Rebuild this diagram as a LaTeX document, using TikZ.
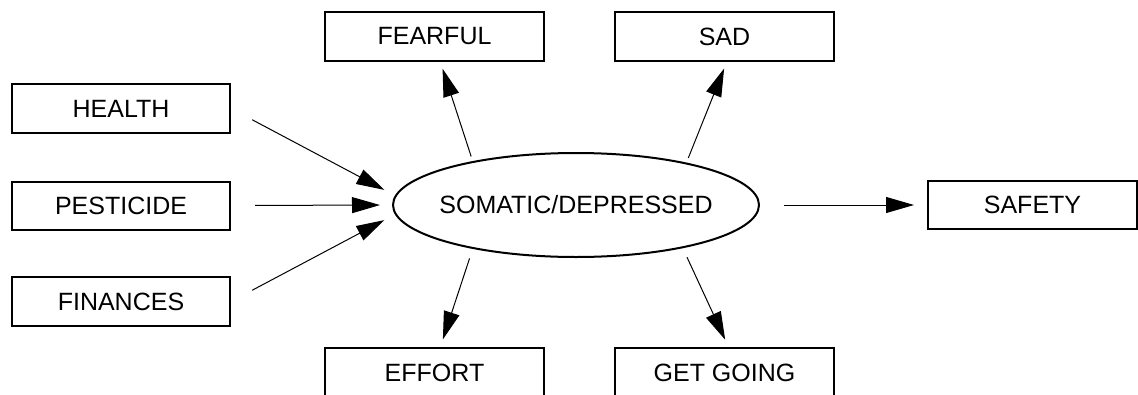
\documentclass[tikz,border=0pt]{standalone}
\usepackage{fontspec}
\setmainfont{Liberation Sans}
\usetikzlibrary{arrows.meta, shapes.geometric}

\tikzset{
	box/.style={draw, line width=2pt, minimum width=219pt, minimum height=49pt, inner sep=0pt, font=\fontsize{25}{30}\selectfont},
	oval/.style={draw, ellipse, line width=2pt, minimum width=366pt, minimum height=104pt, inner xsep=-9pt, inner ysep=0pt, font=\fontsize{25}{30}\selectfont},
	arr/.style={line width=1pt, -{Triangle[length=28pt, width=16pt]}}
}

\begin{document}
\begin{tikzpicture}[x=1pt, y=-1pt]
		\useasboundingbox (0,0) rectangle (1138,394);
		%centre
			\node [oval] (soma) at (576,205) {SOMATIC/DEPRESSED};
		%left side
			\node [box, minimum width=218pt] (health) at (121,108.5) {HEALTH};
			\node [box, minimum width=218pt, minimum height=48pt] (pesticide) at (121,205.5) {PESTICIDE};
			\node [box, minimum width=218pt] (finances) at (121,301.5) {FINANCES};
		%top
			\node [box] (fearful) at (434.5,36.5) {FEARFUL};
			\node [box] (sad) at (724.5,36.5) {SAD};
		%bottom
			\node [box] (effort) at (434.5,372.5) {EFFORT};
			\node [box] (getgoing) at (724.5,372.5) {GET GOING};
		%right side
			\node [box, minimum width=209pt, minimum height=48pt] (safety) at (1032.5,205) {SAFETY};
		%arrows in
			\draw [arr, shorten <=24pt, shorten >=12pt] (health.east) to (soma.177);
			\draw [arr, shorten <=24pt, shorten >=12pt] (pesticide.east) to (soma.west);
			\draw [arr, shorten <=24pt, shorten >=12pt] (finances.east) to (soma.183);
		%arrows out
			\draw [arr, shorten <=5pt, shorten >=7pt] (soma.157) to (fearful.-77);
			\draw [arr, shorten <=5pt, shorten >=7pt] (soma.21) to (sad.-85);
			\draw [arr, shorten <=10pt, shorten >=8pt] (soma.203) to (effort.77);
			\draw [arr, shorten <=10pt, shorten >=8pt] (soma.-22) to (getgoing.81);
			\draw [arr, shorten <=24pt, shorten >=13pt] (soma.east) to (safety.west);
\end{tikzpicture}
\end{document}
